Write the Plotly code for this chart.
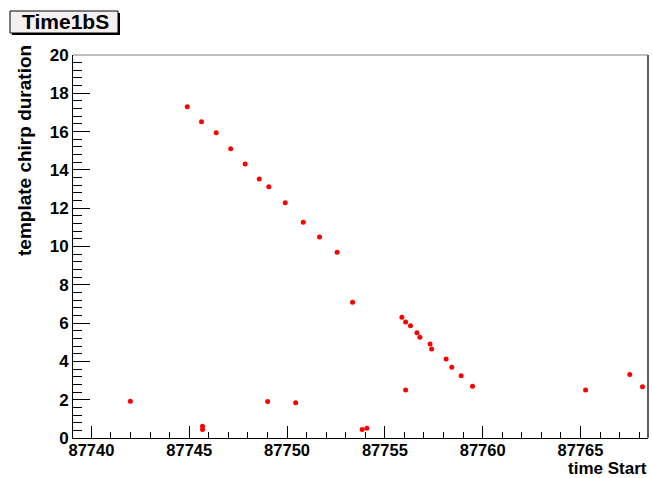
import plotly.graph_objects as go

# Data
time_start = [
    87744.90, 87745.63, 87746.38, 87747.12, 87747.86, 87748.58, 87749.07,
    87749.91, 87750.83, 87751.66, 87752.56, 87753.35, 87755.87, 87756.06,
    87756.31, 87756.64, 87756.79, 87757.31, 87757.39, 87758.13, 87758.42,
    87758.90, 87759.48, 87756.06, 87765.26, 87767.52, 87768.17, 87741.99,
    87745.68, 87745.68, 87749.01, 87750.44, 87753.84, 87754.08,
]
chirp_duration = [
    17.30, 16.52, 15.94, 15.11, 14.31, 13.52, 13.12,
    12.29, 11.26, 10.50, 9.70, 7.09, 6.30, 6.06,
    5.86, 5.50, 5.26, 4.91, 4.65, 4.13, 3.69,
    3.25, 2.70, 2.51, 2.51, 3.31, 2.68, 1.92,
    0.62, 0.44, 1.90, 1.84, 0.45, 0.51,
]
x_range = [87739.06, 87768.45]
y_range = [0, 20]
title_text = "Time1bS"
x_title = "time Start"
y_title = "template chirp duration"

W, H = 652, 478
L, R, T, B = 73, 4, 55, 40
PW, PH = W - L - R, H - T - B


def px(xp):
    return (xp - L) / PW


def py(yp):
    return (H - B - yp) / PH


FONT = "Liberation Sans, Arial, Helvetica, sans-serif"

fig = go.Figure()
fig.add_trace(go.Scatter(
    x=time_start, y=chirp_duration, mode="markers",
    marker=dict(color="#ff0000", size=5, symbol="circle", line=dict(width=0)),
    showlegend=False,
))

axis_common = dict(
    showgrid=False, zeroline=False, showline=True, linecolor="black",
    linewidth=1, ticks="inside", tickcolor="black",
)

fig.update_xaxes(
    range=x_range, tick0=87740, dtick=5, ticklen=12, tickformat="d",
    ticklabelstandoff=-3,
    tickfont=dict(family=FONT, size=16.5, color="black", weight="bold"),
    minor=dict(dtick=1, ticklen=6, ticks="inside", tickcolor="black"),
    **axis_common,
)
fig.update_yaxes(
    range=y_range, tick0=0, dtick=2, ticklen=17,
    tickfont=dict(family=FONT, size=17, color="black", weight="bold"),
    minor=dict(dtick=0.4, ticklen=9, ticks="inside", tickcolor="black"),
    **axis_common,
)

shapes = [
    # top and right frame lines (gray)
    dict(type="line", xref="paper", yref="paper", x0=0, x1=1, y0=1, y1=1,
         line=dict(color="#808080", width=1)),
    dict(type="line", xref="paper", yref="paper", x0=1, x1=1, y0=0, y1=1,
         line=dict(color="#606060", width=2)),
    # title box shadow
    dict(type="rect", xref="paper", yref="paper",
         x0=px(12), x1=px(120), y0=py(35), y1=py(13),
         line=dict(width=0), fillcolor="black", layer="above"),
    # title box
    dict(type="rect", xref="paper", yref="paper",
         x0=px(10), x1=px(118), y0=py(33), y1=py(11),
         line=dict(color="black", width=1), fillcolor="#f4f0f0", layer="above"),
]

annotations = [
    dict(text=title_text, xref="paper", yref="paper", x=px(65), y=py(22),
         xanchor="center", yanchor="middle", showarrow=False,
         font=dict(family=FONT, size=21, color="black", weight="bold")),
    dict(text=x_title, xref="paper", yref="paper", x=px(649), y=py(468),
         xanchor="right", yanchor="middle", showarrow=False,
         font=dict(family=FONT, size=17, color="black", weight="bold")),
    dict(text=y_title, xref="paper", yref="paper", x=px(24), y=py(151),
         xanchor="center", yanchor="middle", showarrow=False, textangle=-90,
         font=dict(family=FONT, size=19, color="black", weight="bold")),
]

fig.update_layout(
    width=W, height=H, autosize=False,
    margin=dict(l=L, r=R, t=T, b=B, pad=0),
    paper_bgcolor="white", plot_bgcolor="white",
    shapes=shapes, annotations=annotations,
)

fig.write_html("out.html")
